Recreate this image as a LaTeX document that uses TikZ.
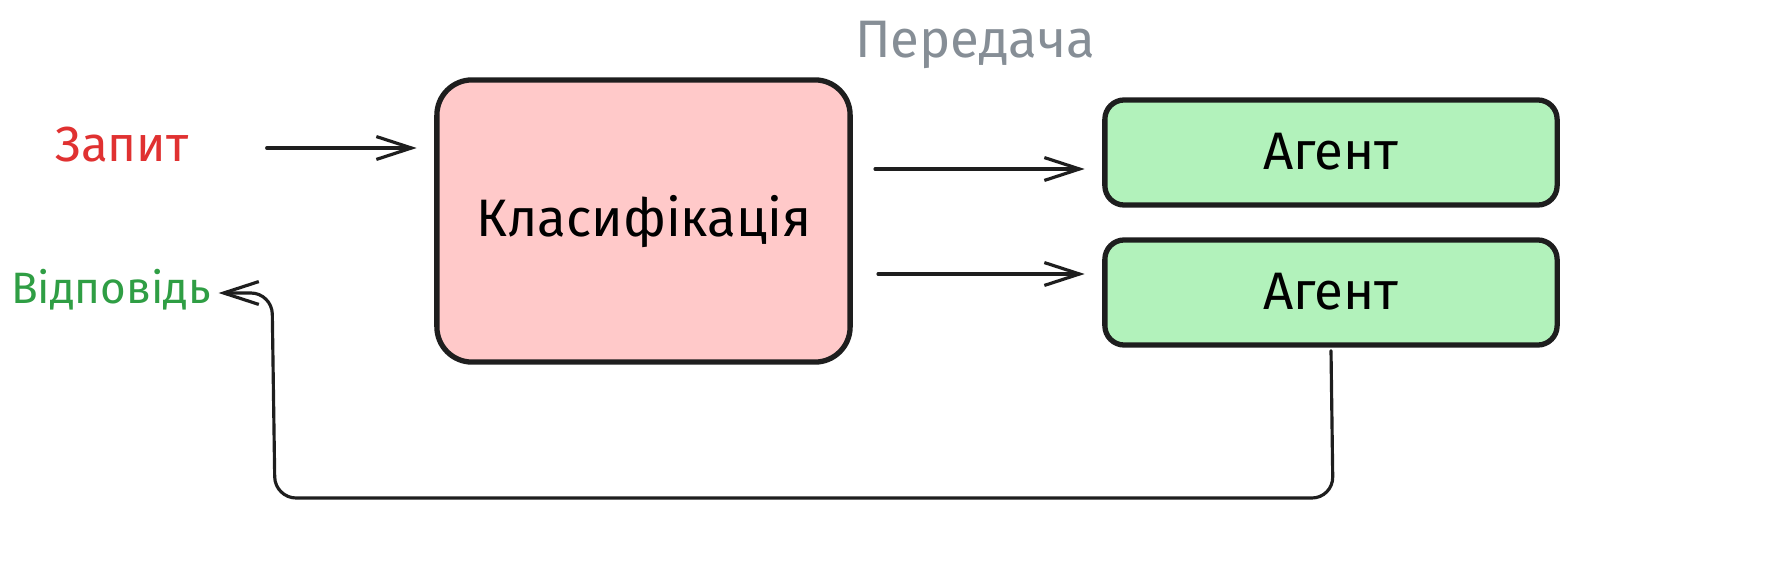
\documentclass[tikz,border=0pt]{standalone}
\usepackage{fontspec}
\setmainfont{Fira Sans}
\usetikzlibrary{arrows.meta,calc}
\definecolor{stroke}{HTML}{1E1E1E}
\definecolor{pinkfill}{HTML}{FFC9C9}
\definecolor{greenfill}{HTML}{B2F2BB}
\definecolor{redtxt}{HTML}{E03131}
\definecolor{greentxt}{HTML}{2F9E44}
\definecolor{graytxt}{HTML}{868E96}
\tikzset{
  pinkbox/.style={draw=stroke, line width=1.5pt, fill=pinkfill, rounded corners=10pt,
    minimum width=4.13cm, minimum height=2.82cm, inner sep=0pt},
  agentbox/.style={draw=stroke, line width=1.5pt, fill=greenfill, rounded corners=5.5pt,
    minimum width=4.52cm, minimum height=1.05cm, inner sep=0pt},
  lbl/.style={font=\fontsize{14}{16}\selectfont, inner sep=0pt},
  big/.style={font=\fontsize{15}{17}\selectfont},
  arr/.style={draw=stroke, line width=0.9pt, line cap=round,
    -{Straight Barb[length=10pt,width=6.5pt,line width=0.9pt]}},
}
\begin{document}
\begin{tikzpicture}[x=0.01cm,y=-0.01cm]
\useasboundingbox (0,0) rectangle (1782,576);
\fill[white] (0,0) rectangle (1782,576);
\node[pinkbox] (klas) at (643.5,221) {};
\node[lbl, big] (klast) at (643.5,222) {Класифікація};
\node[agentbox] (a1) at (1331,152.5) {};
\node[lbl, big] (a1t) at (1331,152) {Агент};
\node[agentbox] (a2) at (1331,292.5) {};
\node[lbl, big] (a2t) at (1331,292) {Агент};
\node[lbl, text=redtxt] (q) at (122,145) {Запит};
\node[lbl, text=greentxt, font=\fontsize{12.5}{15}\selectfont] (r) at (111,290) {Відповідь};
\node[lbl, big, text=graytxt] (h) at (975,45) {Передача};
\coordinate (s1) at (875,169);
\coordinate (s2) at (878,274);
\draw[arr, shorten <=22pt, shorten >=5pt] (q.east |- 0,148) -- (klas.west |- 0,148);
\draw[arr, shorten >=5pt] (s1) -- (a1.west |- s1);
\draw[arr, shorten >=5pt] (s2) -- (a2.west |- s2);
\draw[arr, rounded corners=6pt] ($(a2.south)+(0,3)$) -- (1333,498) -- (275,498) -- (272,293) -- ($(r.east)+(7,3)$);
\end{tikzpicture}
\end{document}
